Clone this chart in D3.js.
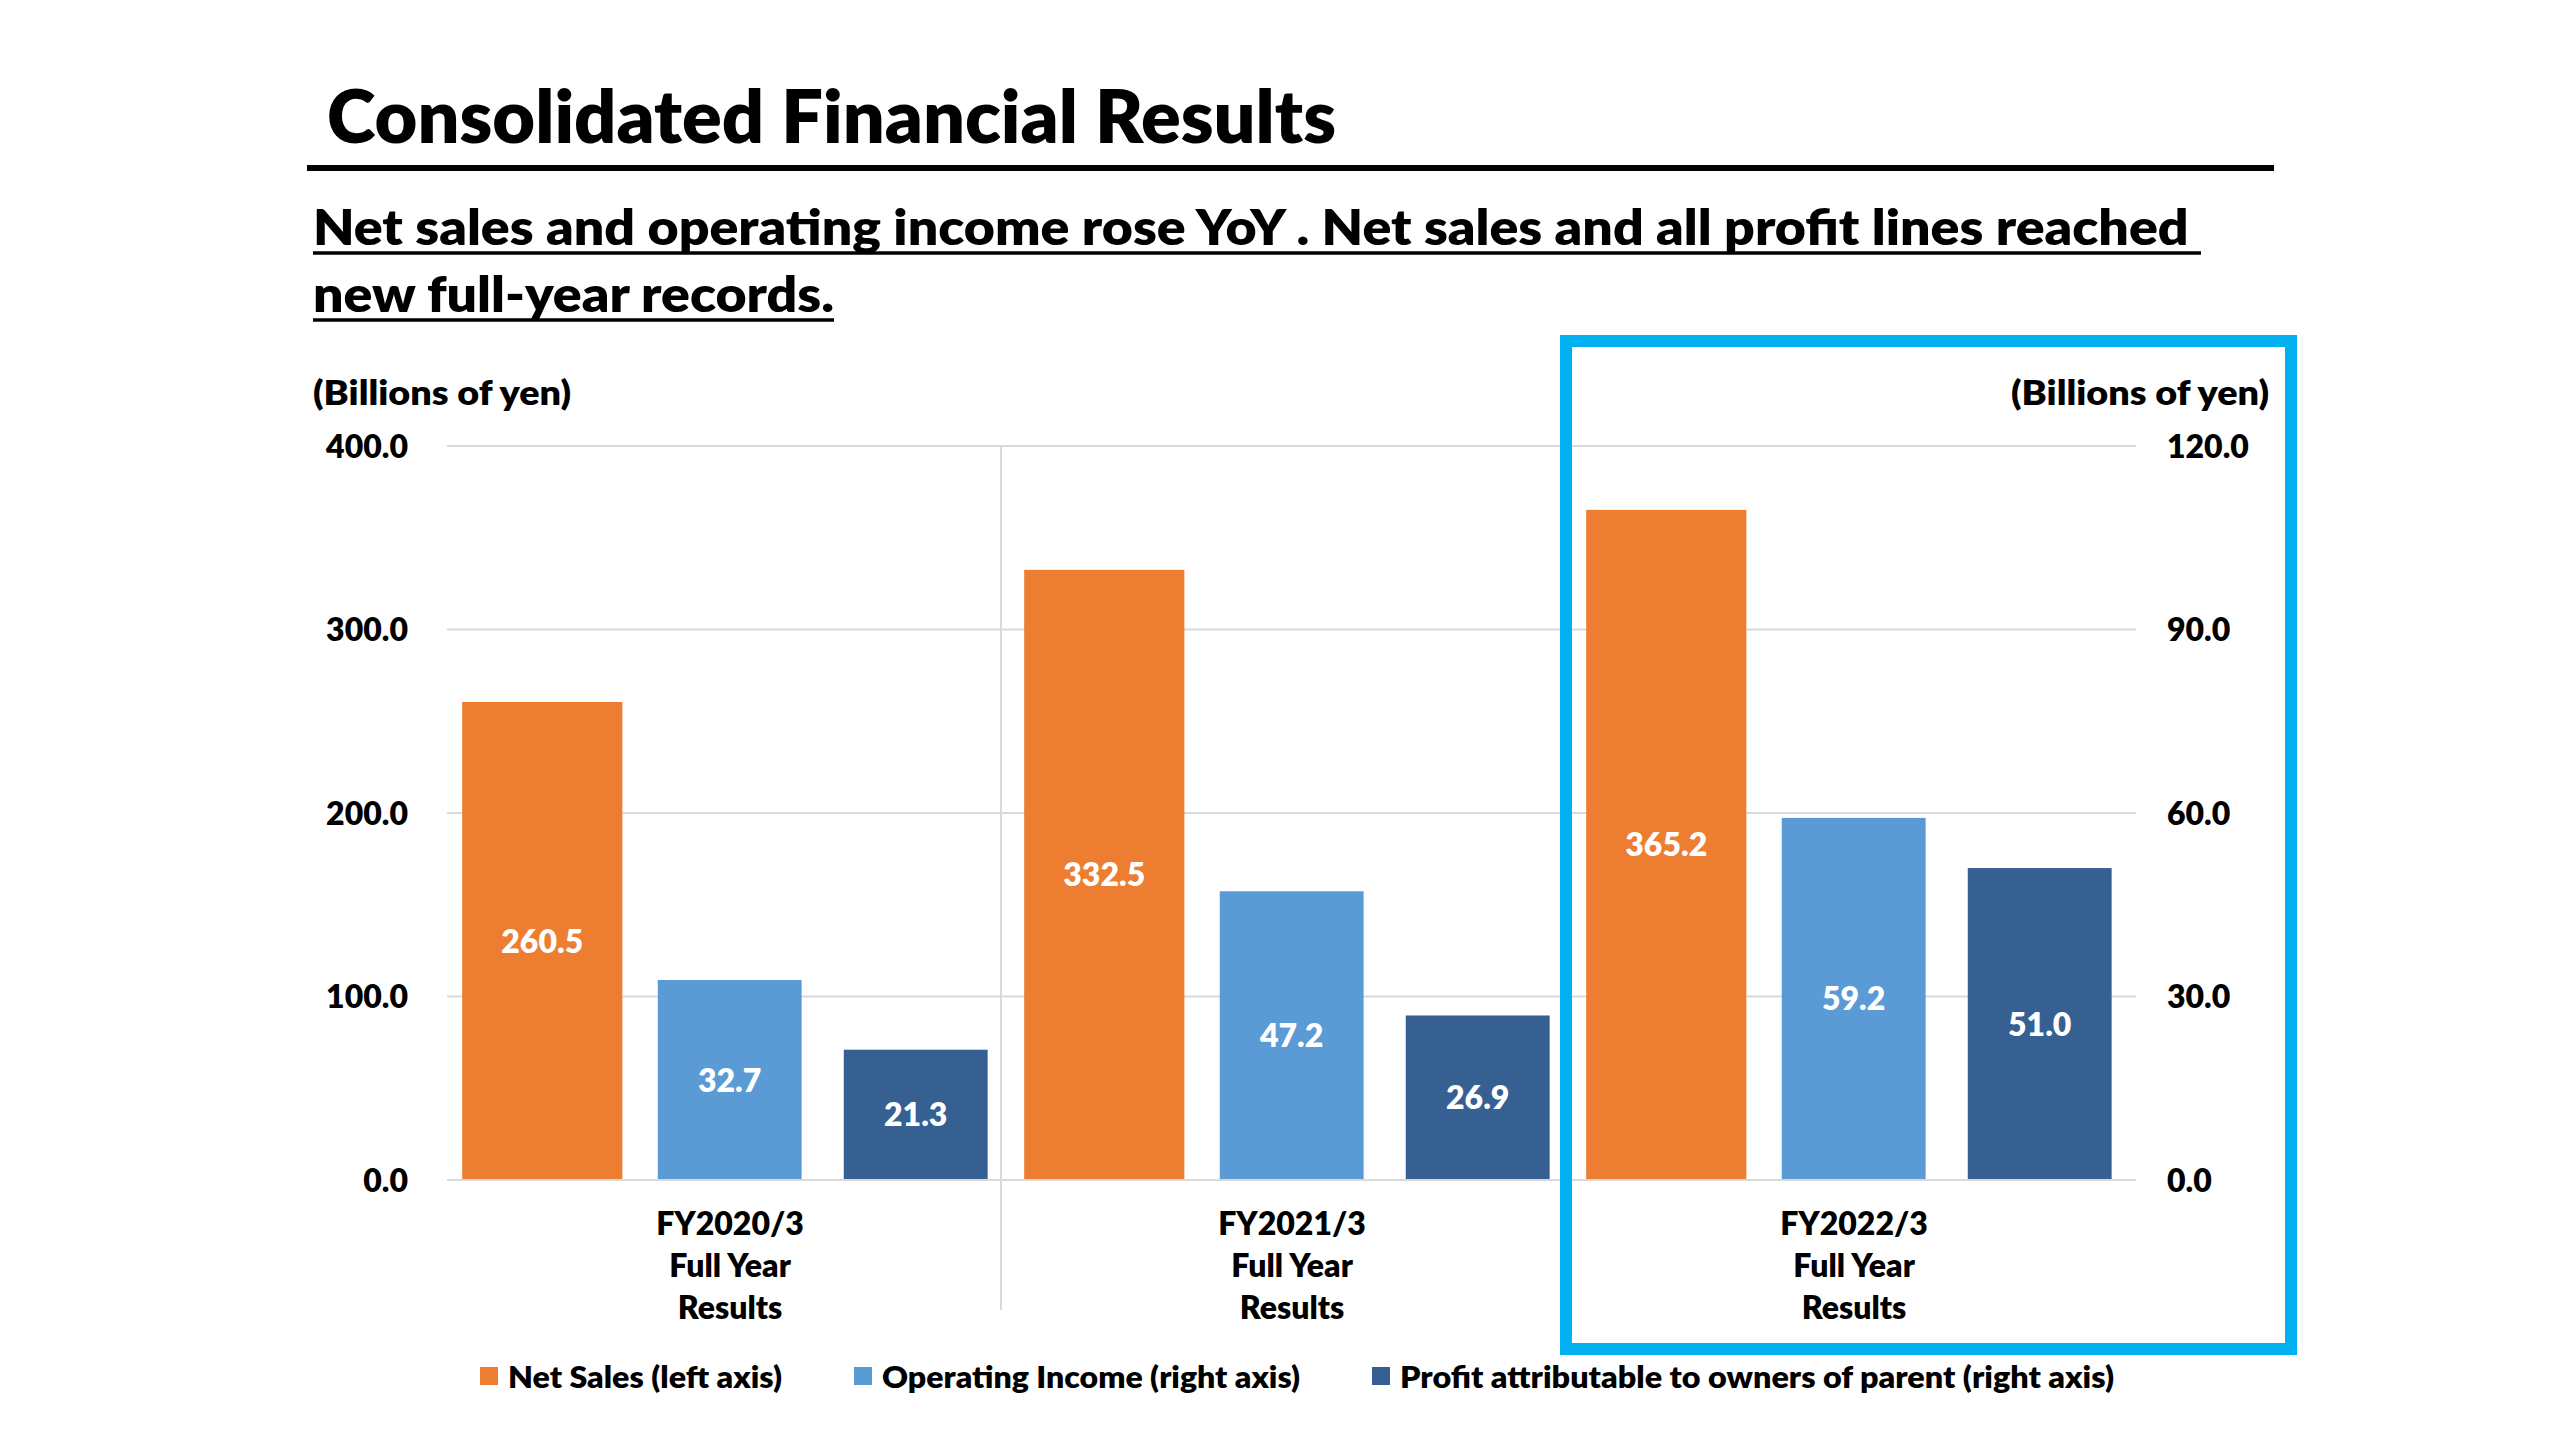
<!DOCTYPE html>
<html>
<head>
<meta charset="utf-8">
<script src="https://cdn.jsdelivr.net/npm/d3@7"></script>
<style>
  html, body { margin: 0; padding: 0; background: #ffffff; }
  svg { display: block; font-family: Lato, "Open Sans", sans-serif; font-weight: 800; }
</style>
</head>
<body>
<svg id="chart" width="2560" height="1440"></svg>
<script>
// ---- Data ----
const categories = ["FY2020/3", "FY2021/3", "FY2022/3"];
const categoryLines = [["FY2020/3", "Full Year", "Results"], ["FY2021/3", "Full Year", "Results"], ["FY2022/3", "Full Year", "Results"]];
const netSales = [260.5, 332.5, 365.2];          // left axis
const operatingIncome = [32.7, 47.2, 59.2];      // right axis
const profitParent = [21.3, 26.9, 51.0];         // right axis
const leftTicks = [0, 100, 200, 300, 400];
const rightTicks = [0, 30, 60, 90, 120];
const seriesNames = ["Net Sales (left axis)", "Operating Income (right axis)", "Profit attributable to owners of parent (right axis)"];
const titleText = "Consolidated Financial Results";
const subtitleLines = ["Net sales and operating income rose YoY . Net sales and all profit lines reached ", "new full-year records."];
const unitText = "(Billions of yen)";

// ---- Styles / layout ----
const colors = ["#ED7D31", "#5B9BD5", "#376092"];
const gridColor = "#D9D9D9";
const highlight = "#00B0F0";
const FW = 800;
const plot = { left: 447, right: 2133, top: 446, bottom: 1180 };
// per-series placement inside a category band (fraction of band)
const seriesLayout = [
  { offset: 0.027, width: 0.285, axis: "left" },
  { offset: 0.375, width: 0.256, axis: "right" },
  { offset: 0.706, width: 0.256, axis: "right" }
];
const seriesValues = [netSales, operatingIncome, profitParent];

const svg = d3.select("#chart");

// ---- Scales ----
const x = d3.scaleBand().domain(categories).range([plot.left, plot.right]).padding(0);
const yL = d3.scaleLinear().domain([0, 400]).range([plot.bottom, plot.top]);
const yR = d3.scaleLinear().domain([0, 120]).range([plot.bottom, plot.top]);

// ---- Title ----
svg.append("text").attr("x", 327).attr("y", 143)
  .attr("font-size", 74).attr("fill", "#000").attr("font-weight", FW)
  .attr("textLength", 1009).attr("lengthAdjust", "spacingAndGlyphs")
  .text(titleText);
svg.append("line").attr("x1", 307).attr("x2", 2274).attr("y1", 168).attr("y2", 168)
  .attr("stroke", "#000").attr("stroke-width", 6);

// ---- Subtitle with underline ----
const subY = [245, 312];
const subW = [1888, 521];
subtitleLines.forEach((t, i) => {
  svg.append("text").attr("x", 313).attr("y", subY[i])
    .attr("font-size", 50).attr("fill", "#000").attr("font-weight", FW)
    .attr("textLength", subW[i]).attr("lengthAdjust", "spacingAndGlyphs")
    .attr("xml:space", "preserve")
    .text(t);
  svg.append("line").attr("x1", 313).attr("x2", 313 + subW[i])
    .attr("y1", subY[i] + 8).attr("y2", subY[i] + 8)
    .attr("stroke", "#000").attr("stroke-width", 3.5);
});

// ---- Unit labels ----
svg.append("text").attr("x", 313).attr("y", 405).attr("font-size", 33)
  .attr("textLength", 258).attr("lengthAdjust", "spacingAndGlyphs").text(unitText);
svg.append("text").attr("x", 2269).attr("y", 405).attr("font-size", 33)
  .attr("text-anchor", "end")
  .attr("textLength", 258).attr("lengthAdjust", "spacingAndGlyphs").text(unitText);

// ---- Gridlines ----
svg.append("g").selectAll("line").data(leftTicks).join("line")
  .attr("x1", plot.left).attr("x2", plot.right + 3)
  .attr("y1", d => yL(d)).attr("y2", d => yL(d))
  .attr("stroke", gridColor).attr("stroke-width", 2);

// category separators
const bounds = categories.slice(1).map(c => x(c));
svg.append("g").selectAll("line").data(bounds).join("line")
  .attr("x1", d => d - 8).attr("x2", d => d - 8)
  .attr("y1", plot.top).attr("y2", 1310)
  .attr("stroke", gridColor).attr("stroke-width", 2);

// ---- Axes ----
const fmt = d3.format(".1f");
const axL = svg.append("g").attr("transform", `translate(${408},0)`)
  .call(d3.axisLeft(yL).tickValues(leftTicks).tickFormat(fmt).tickSize(0).tickPadding(0));
axL.select(".domain").remove();
axL.selectAll("text").attr("font-size", 32).attr("font-family", "Lato, sans-serif")
  .attr("font-weight", FW).attr("fill", "#000").attr("dy", "0.35em");

const axR = svg.append("g").attr("transform", `translate(${2167},0)`)
  .call(d3.axisRight(yR).tickValues(rightTicks).tickFormat(fmt).tickSize(0).tickPadding(0));
axR.select(".domain").remove();
axR.selectAll("text").attr("font-size", 32).attr("font-family", "Lato, sans-serif")
  .attr("font-weight", FW).attr("fill", "#000").attr("dy", "0.35em");

// ---- Bars ----
const barData = [];
seriesValues.forEach((vals, s) => {
  vals.forEach((v, i) => barData.push({ s, cat: categories[i], v }));
});
const yFor = d => seriesLayout[d.s].axis === "left" ? yL : yR;
const bx = d => x(d.cat) + seriesLayout[d.s].offset * x.bandwidth();
const bw = d => seriesLayout[d.s].width * x.bandwidth();

svg.append("g").selectAll("rect").data(barData).join("rect")
  .attr("x", bx).attr("width", bw)
  .attr("y", d => yFor(d)(d.v))
  .attr("height", d => yFor(d)(0) - yFor(d)(d.v))
  .attr("fill", d => colors[d.s]);

// bottom axis line
svg.append("line").attr("x1", plot.left).attr("x2", plot.right + 3)
  .attr("y1", plot.bottom).attr("y2", plot.bottom)
  .attr("stroke", gridColor).attr("stroke-width", 2);

// value labels
svg.append("g").selectAll("text").data(barData).join("text")
  .attr("x", d => bx(d) + bw(d) / 2)
  .attr("y", d => (yFor(d)(d.v) + yFor(d)(0)) / 2)
  .attr("dy", "0.36em")
  .attr("text-anchor", "middle")
  .attr("font-size", 32).attr("fill", "#fff").attr("font-weight", FW)
  .text(d => fmt(d.v));

// ---- Category labels ----
const axB = svg.append("g").attr("transform", `translate(0,${plot.bottom})`)
  .call(d3.axisBottom(x).tickSize(0).tickFormat(""));
axB.select(".domain").remove();
axB.selectAll(".tick").each(function(d, i) {
  const t = d3.select(this).append("text")
    .attr("text-anchor", "middle").attr("fill", "#000")
    .attr("font-size", 32).attr("font-family", "Lato, sans-serif").attr("font-weight", FW);
  categoryLines[i].forEach((line, j) => {
    t.append("tspan").attr("x", 2).attr("y", 55 + j * 42).text(line);
  });
});

// ---- Legend ----
const legendW = [274, 418, 714];
let lx = 480;
const leg = svg.append("g");
seriesNames.forEach((name, i) => {
  leg.append("rect").attr("x", lx).attr("y", 1367).attr("width", 18).attr("height", 18)
    .attr("fill", colors[i]);
  leg.append("text").attr("x", lx + 28).attr("y", 1388).attr("font-size", 31)
    .attr("fill", "#000").attr("font-weight", FW)
    .attr("textLength", legendW[i]).attr("lengthAdjust", "spacingAndGlyphs")
    .text(name);
  lx += 28 + legendW[i] + 72;
});

// ---- Highlight box ----
svg.append("rect").attr("x", 1566).attr("y", 341).attr("width", 725).attr("height", 1008)
  .attr("fill", "none").attr("stroke", highlight).attr("stroke-width", 12);
</script>
</body>
</html>
